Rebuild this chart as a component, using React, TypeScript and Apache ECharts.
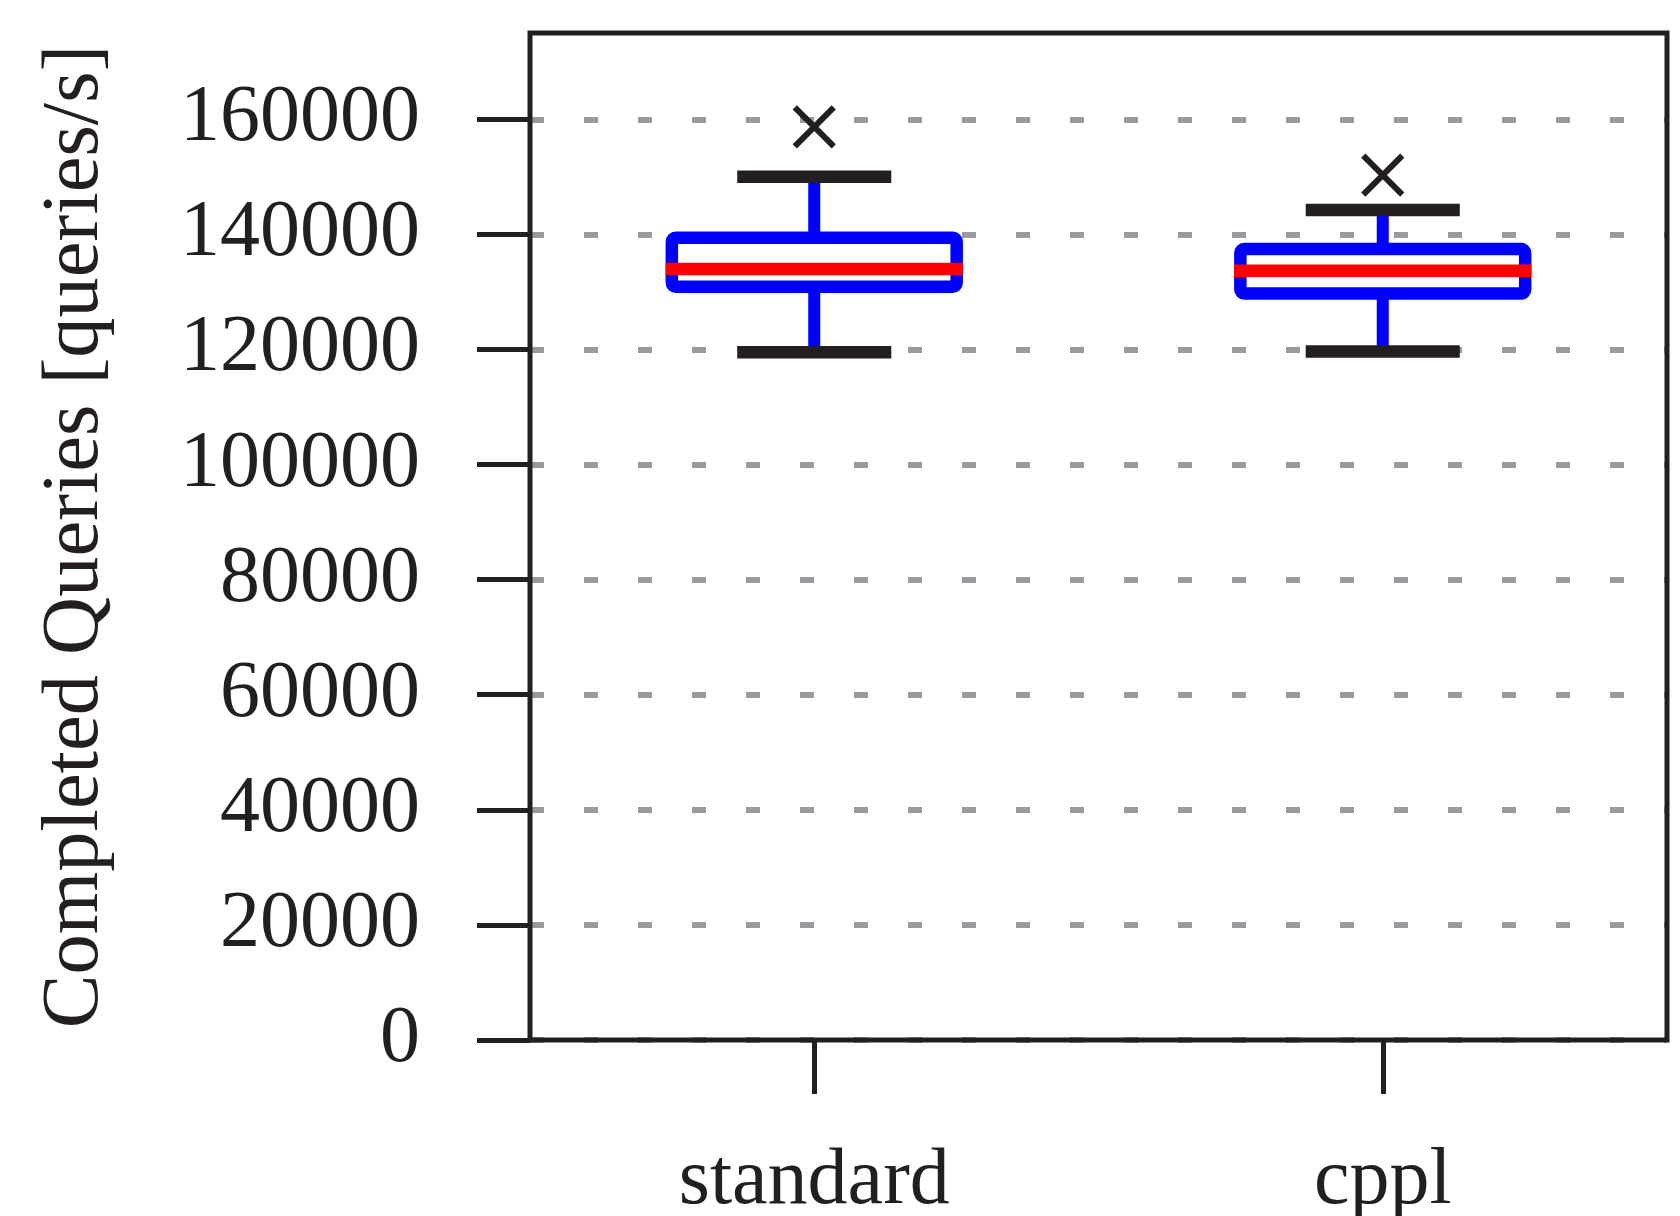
import React, { useEffect, useRef } from 'react';
import * as echarts from 'echarts';

const categories = ['standard', 'cppl'];
const whiskerLow = [119500, 119650];
const quartile1 = [130900, 129750];
const medians = [134000, 133700];
const quartile3 = [139400, 137450];
const whiskerHigh = [150000, 144250];
const outliers = [158700, 150300];
const yTickValues = [0, 20000, 40000, 60000, 80000, 100000, 120000, 140000, 160000];
const yMin = 0;
const yMax = 175000;
const yTitle = 'Completed Queries [queries/s]';

const INK = '#231f20';
const BLUE = '#0000ff';
const RED = '#ff0000';
const GRAY = '#9a9a9e';
const FONT = "'Liberation Serif', 'Times New Roman', serif";

const W = 1680;
const H = 1216;
const GRID = { left: 530, top: 33, right: 13, bottom: 176 };

export default function App() {
  const ref = useRef<HTMLDivElement>(null);

  useEffect(() => {
    document.body.style.margin = '0';
    const chart = echarts.init(ref.current as HTMLDivElement, null, { renderer: 'svg' });

    const boxData = categories.map((_, i) => [
      i,
      whiskerLow[i],
      quartile1[i],
      medians[i],
      quartile3[i],
      whiskerHigh[i],
    ]);
    const outlierData = outliers.map((v, i) => [i, v]);

    const renderBox = (_params: any, api: any) => {
      const i = api.value(0);
      const band = api.size([1, 0])[0];
      const cx = api.coord([i, api.value(3)])[0];
      const yLo = api.coord([i, api.value(1)])[1];
      const yQ1 = api.coord([i, api.value(2)])[1];
      const yMed = api.coord([i, api.value(3)])[1];
      const yQ3 = api.coord([i, api.value(4)])[1];
      const yHi = api.coord([i, api.value(5)])[1];
      const lw = 12.5;
      const half = band * 0.2505;
      const capHalf = band * 0.1355;
      return {
        type: 'group',
        children: [
          {
            type: 'line',
            shape: { x1: cx, y1: yQ3, x2: cx, y2: yHi },
            style: { stroke: BLUE, lineWidth: 12 },
          },
          {
            type: 'line',
            shape: { x1: cx, y1: yQ1, x2: cx, y2: yLo },
            style: { stroke: BLUE, lineWidth: 12 },
          },
          {
            type: 'rect',
            shape: { x: cx - half, y: yQ3, width: 2 * half, height: yQ1 - yQ3, r: 4 },
            style: { fill: '#ffffff', stroke: BLUE, lineWidth: lw },
          },
          {
            type: 'line',
            shape: { x1: cx - half - lw / 2, y1: yMed, x2: cx + half + lw / 2, y2: yMed },
            style: { stroke: RED, lineWidth: lw },
          },
          {
            type: 'line',
            shape: { x1: cx - capHalf, y1: yHi, x2: cx + capHalf, y2: yHi },
            style: { stroke: INK, lineWidth: lw },
          },
          {
            type: 'line',
            shape: { x1: cx - capHalf, y1: yLo, x2: cx + capHalf, y2: yLo },
            style: { stroke: INK, lineWidth: lw },
          },
        ],
      };
    };

    const renderOutlier = (_params: any, api: any) => {
      const p = api.coord([api.value(0), api.value(1)]);
      const s = 19.5;
      const st = { stroke: INK, lineWidth: 6 };
      return {
        type: 'group',
        children: [
          { type: 'line', shape: { x1: p[0] - s, y1: p[1] - s, x2: p[0] + s, y2: p[1] + s }, style: st },
          { type: 'line', shape: { x1: p[0] - s, y1: p[1] + s, x2: p[0] + s, y2: p[1] - s }, style: st },
        ],
      };
    };

    const plotW = W - GRID.left - GRID.right;
    const plotH = H - GRID.top - GRID.bottom;

    chart.setOption({
      animation: false,
      backgroundColor: '#ffffff',
      grid: { ...GRID, show: false },
      xAxis: {
        type: 'category',
        data: categories,
        boundaryGap: true,
        axisLine: { show: false },
        axisTick: {
          show: true,
          alignWithLabel: true,
          length: 54,
          lineStyle: { color: INK, width: 5 },
        },
        axisLabel: {
          fontFamily: FONT,
          fontSize: 80,
          color: INK,
          margin: 96,
        },
        splitLine: { show: false },
      },
      yAxis: {
        type: 'value',
        min: yMin,
        max: yMax,
        axisLine: { show: false },
        axisTick: {
          show: true,
          length: 53,
          customValues: yTickValues,
          lineStyle: { color: INK, width: 5 },
        },
        axisLabel: {
          customValues: yTickValues,
          formatter: (v: number) => String(v),
          fontFamily: FONT,
          fontSize: 80,
          color: INK,
          margin: 110,
          verticalAlign: 'bottom',
          lineHeight: 12,
        },
        splitLine: {
          show: true,
          lineStyle: { color: GRAY, width: 6, type: [14, 40] },
        },
      },
      series: [
        {
          type: 'custom',
          name: 'box',
          data: boxData,
          renderItem: renderBox,
          encode: { x: 0, y: [1, 2, 3, 4, 5] },
          z: 5,
        },
        {
          type: 'custom',
          name: 'outliers',
          data: outlierData,
          renderItem: renderOutlier,
          encode: { x: 0, y: 1 },
          z: 5,
        },
      ],
      graphic: [
        {
          type: 'rect',
          z: 100,
          shape: { x: GRID.left, y: GRID.top, width: plotW, height: plotH },
          style: { fill: 'none', stroke: INK, lineWidth: 5 },
          silent: true,
        },
        {
          type: 'text',
          z: 100,
          x: 69,
          y: GRID.top + plotH / 2,
          rotation: Math.PI / 2,
          style: {
            text: yTitle,
            fontFamily: FONT,
            fontSize: 80.5,
            fill: INK,
            align: 'center',
            verticalAlign: 'middle',
          },
        },
      ],
    });

    return () => {
      chart.dispose();
    };
  }, []);

  return <div ref={ref} style={{ width: W, height: H }} />;
}
